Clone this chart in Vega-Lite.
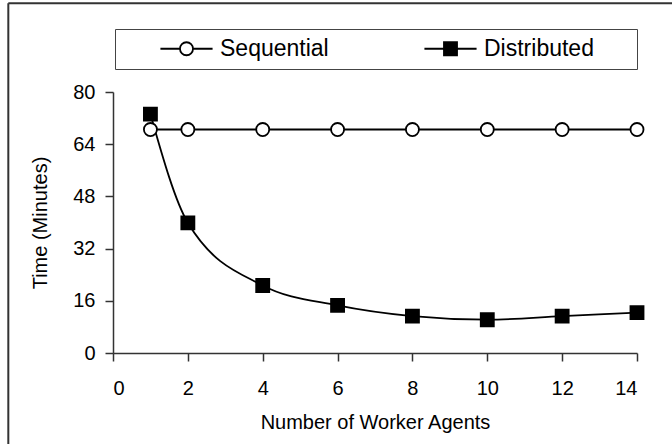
{
  "$schema": "https://vega.github.io/schema/vega-lite/v6.json",
  "width": 524,
  "height": 261,
  "autosize": "none",
  "padding": {"left": 113, "top": 92, "right": 35, "bottom": 91},
  "background": "white",
  "config": {
    "view": {"stroke": null},
    "font": "Liberation Sans",
    "axis": {
      "grid": false,
      "domainColor": "#333333",
      "tickColor": "#333333",
      "domainWidth": 1.5,
      "tickWidth": 1.5,
      "tickSize": 8,
      "labelFont": "Liberation Sans",
      "labelFontSize": 20,
      "labelColor": "black",
      "titleFont": "Liberation Sans",
      "titleFontSize": 20,
      "titleFontWeight": "normal",
      "titleColor": "black"
    }
  },
  "data": {
    "values": [
      {"series": "Distributed", "agents": 1, "time": 73.2},
      {"series": "Distributed", "agents": 2, "time": 39.9},
      {"series": "Distributed", "agents": 4, "time": 20.7},
      {"series": "Distributed", "agents": 6, "time": 14.6},
      {"series": "Distributed", "agents": 8, "time": 11.3},
      {"series": "Distributed", "agents": 10, "time": 10.2},
      {"series": "Distributed", "agents": 12, "time": 11.3},
      {"series": "Distributed", "agents": 14, "time": 12.4},
      {"series": "Sequential", "agents": 1, "time": 68.5},
      {"series": "Sequential", "agents": 2, "time": 68.5},
      {"series": "Sequential", "agents": 4, "time": 68.5},
      {"series": "Sequential", "agents": 6, "time": 68.5},
      {"series": "Sequential", "agents": 8, "time": 68.5},
      {"series": "Sequential", "agents": 10, "time": 68.5},
      {"series": "Sequential", "agents": 12, "time": 68.5},
      {"series": "Sequential", "agents": 14, "time": 68.5}
    ]
  },
  "layer": [
    {
      "data": {"values": [{}]},
      "mark": {"type": "rule", "stroke": "#333333", "strokeWidth": 2, "clip": false},
      "encoding": {
        "x": {"datum": -2.797, "type": "quantitative", "scale": {"domain": [0, 14], "nice": false, "zero": false}},
        "x2": {"datum": 14.935},
        "y": {"datum": 107.19, "type": "quantitative", "scale": {"domain": [0, 80], "nice": false}}
      }
    },
    {
      "data": {"values": [{}]},
      "mark": {"type": "rule", "stroke": "#333333", "strokeWidth": 2, "clip": false},
      "encoding": {
        "x": {"datum": -2.797, "type": "quantitative"},
        "y": {"datum": -27.89, "type": "quantitative"},
        "y2": {"datum": 107.19}
      }
    },
    {
      "mark": {"type": "line", "interpolate": "monotone", "stroke": "black", "strokeWidth": 1.8},
      "encoding": {
        "x": {
          "field": "agents", "type": "quantitative",
          "scale": {"domain": [0, 14], "nice": false, "zero": false},
          "axis": {"values": [0, 2, 4, 6, 8, 10, 12, 14], "title": "Number of Worker Agents", "labelPadding": 17, "titlePadding": 14}
        },
        "y": {
          "field": "time", "type": "quantitative",
          "scale": {"domain": [0, 80], "nice": false},
          "axis": {"values": [0, 16, 32, 48, 64, 80], "title": "Time (Minutes)", "labelPadding": 10, "titlePadding": 22}
        },
        "detail": {"field": "series"}
      }
    },
    {
      "mark": {"type": "point", "filled": true, "size": 170, "opacity": 0},
      "encoding": {
        "x": {"field": "agents", "type": "quantitative"},
        "y": {"field": "time", "type": "quantitative"},
        "shape": {
          "field": "series", "type": "nominal",
          "scale": {
            "domain": ["Sequential", "Distributed"],
            "range": [
              "M-4,0L-1,0M1,0L4,0M-1,0A1,1,0,1,1,1,0A1,1,0,1,1,-1,0Z",
              "M-4,0L-1,0M1,0L4,0M-1,-1L1,-1L1,1L-1,1ZM26.8,0"
            ]
          },
          "legend": {
            "title": null,
            "orient": "none",
            "legendX": 2,
            "legendY": -63,
            "direction": "horizontal",
            "strokeColor": "#444444",
            "padding": 8,
            "labelFont": "Liberation Sans",
            "labelFontSize": 23,
            "labelColor": "black",
            "symbolSize": 170,
            "symbolStrokeWidth": 1.8,
            "symbolOpacity": 1,
            "symbolOffset": 52,
            "labelOffset": 22,
            "columnPadding": 58
          }
        },
        "fill": {
          "field": "series", "type": "nominal",
          "scale": {"domain": ["Sequential", "Distributed"], "range": ["white", "black"]},
          "legend": null
        },
        "stroke": {
          "field": "series", "type": "nominal",
          "scale": {"domain": ["Sequential", "Distributed"], "range": ["black", "black"]},
          "legend": null
        }
      }
    },
    {
      "mark": {"type": "point", "filled": true, "stroke": "black", "strokeWidth": 1.8, "size": 170, "opacity": 1},
      "encoding": {
        "x": {"field": "agents", "type": "quantitative"},
        "y": {"field": "time", "type": "quantitative"},
        "fill": {
          "condition": {"test": "datum.series === 'Sequential'", "value": "white"},
          "value": "black"
        },
        "shape": {
          "condition": {"test": "datum.series === 'Sequential'", "value": "circle"},
          "value": "square"
        }
      }
    }
  ]
}
